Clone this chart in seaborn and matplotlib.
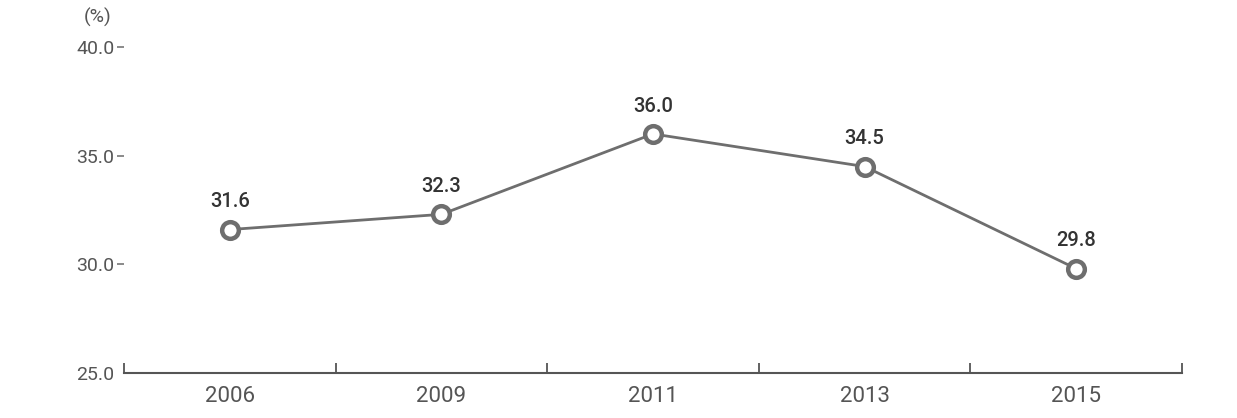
import matplotlib
matplotlib.use("Agg")
import matplotlib.pyplot as plt
import seaborn as sns
import pandas as pd
from matplotlib.ticker import FixedLocator

# data
years = ["2006", "2009", "2011", "2013", "2015"]
values = [31.6, 32.3, 36.0, 34.5, 29.8]
y_ticks = [25.0, 30.0, 35.0, 40.0]

sns.set_style("white")
plt.rcParams["font.family"] = ["Roboto", "DejaVu Sans"]

df = pd.DataFrame({"year": years, "value": values})

fig = plt.figure(figsize=(12.37, 4.18), dpi=100)
ax = fig.add_axes([124 / 1237, 45 / 418, (1182 - 124) / 1237, (373 - 47) / 418])

line_col = "#6e6e6e"
sns.lineplot(data=df, x="year", y="value", ax=ax, color=line_col, linewidth=2,
             marker="o", markersize=12, markerfacecolor="white",
             markeredgecolor=line_col, markeredgewidth=3.2, zorder=3)

for i, v in enumerate(values):
    ax.annotate(f"{v:.1f}", (i, v), xytext=(0, 20), textcoords="offset points",
                ha="center", va="center", fontsize=14.5, color="#333333",
                fontweight="medium")

ax.set_xlim(-0.5, len(years) - 0.5)
ax.set_ylim(25, 40)
ax.set_yticks(y_ticks)
ax.set_yticklabels([f"{t:.1f}" for t in y_ticks])
ax.set_xlabel("")
ax.set_ylabel("")

for s in ["top", "right", "left"]:
    ax.spines[s].set_visible(False)
ax.spines["bottom"].set_color("#555555")
ax.spines["bottom"].set_linewidth(1.5)

# boundary ticks between categories, pointing up
ax.xaxis.set_minor_locator(FixedLocator([i - 0.5 for i in range(len(years) + 1)]))
ax.tick_params(axis="x", which="minor", direction="in", length=7, width=1.3,
               color="#555555", bottom=True)
ax.tick_params(axis="x", which="major", length=0, pad=9, labelsize=16,
               labelcolor="#555555")
ax.tick_params(axis="y", which="major", direction="out", length=5, width=1.2,
               color="#777777", pad=2, labelsize=14, labelcolor="#555555",
               left=True)
ax.yaxis.get_major_ticks()[0].tick1line.set_visible(False)

fig.text(98 / 1237, 1 - 17 / 418, "(%)", ha="center", va="center",
         fontsize=14, color="#555555")

fig.savefig("out.png", dpi=100)
